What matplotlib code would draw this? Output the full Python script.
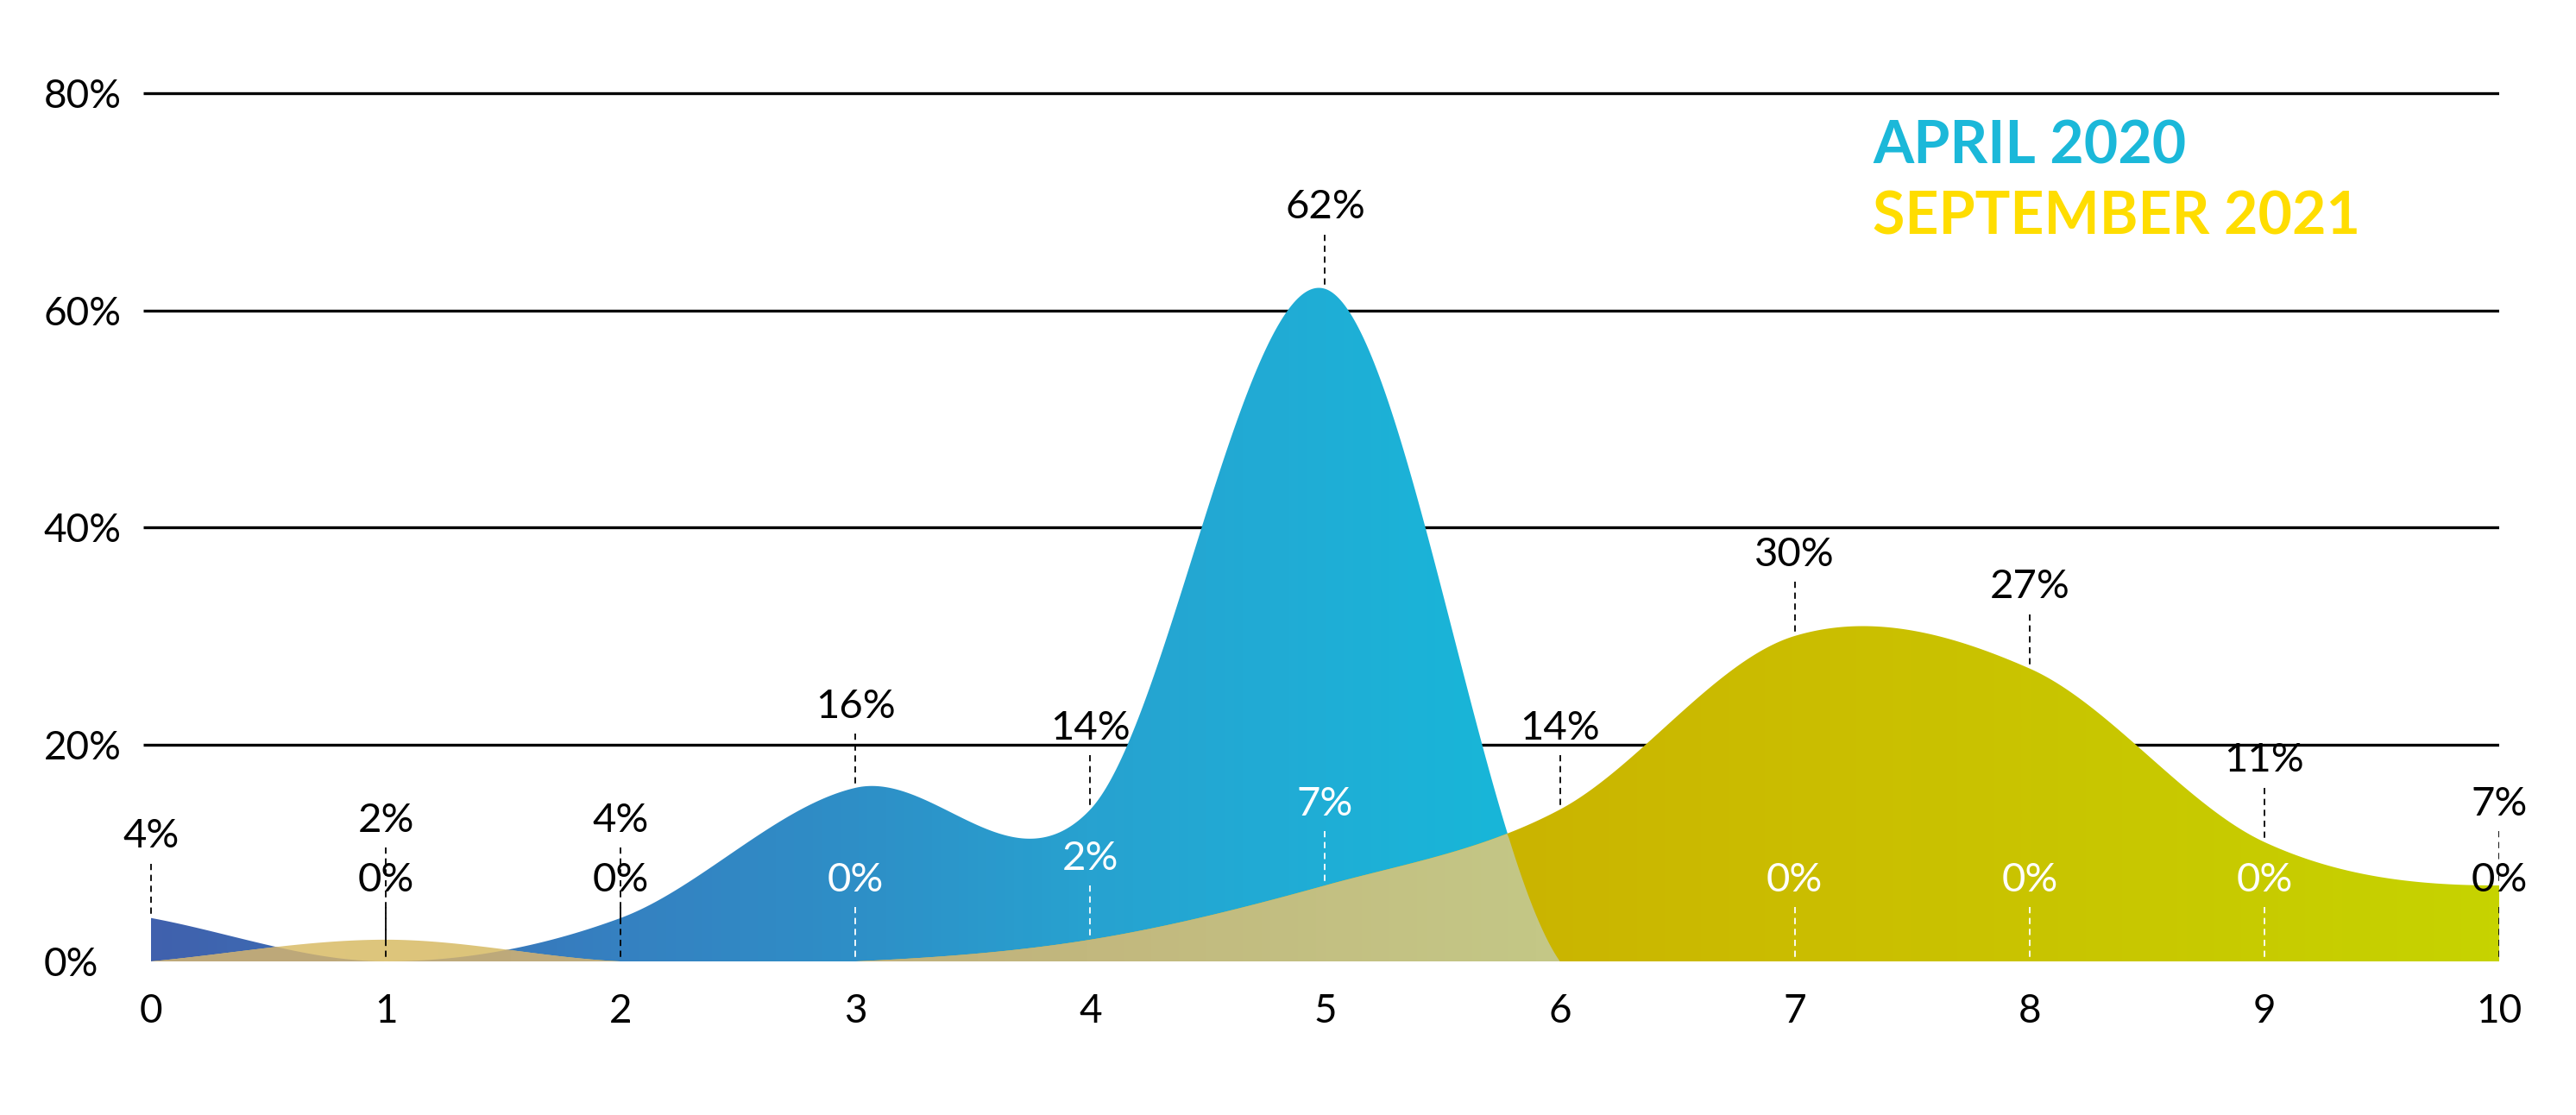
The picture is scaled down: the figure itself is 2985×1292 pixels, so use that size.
import numpy as np
import matplotlib
matplotlib.use('Agg')
import matplotlib.pyplot as plt
from matplotlib.colors import LinearSegmentedColormap
from matplotlib.patches import Polygon

plt.rcParams['font.family'] = ['Lato', 'DejaVu Sans']

# data (share of respondents per score)
scores = list(range(11))
april = [4, 0, 4, 16, 14, 62, 0, 0, 0, 0, 0]
september = [0, 2, 0, 0, 2, 7, 14, 30, 27, 11, 7]
april_labels = ['4%', '0%', '4%', '16%', '14%', '62%', '', '0%', '0%', '0%', '0%']
sept_labels = ['', '2%', '0%', '0%', '2%', '7%', '14%', '30%', '27%', '11%', '7%']
y_ticks = [0, 20, 40, 60, 80]
y_tick_labels = ['0%', '20%', '40%', '60%', '80%']
series_names = ['APRIL 2020', 'SEPTEMBER 2021']


def smooth(x, y, xs):
    # catmull-rom style curve through the points (like the hand drawn areas)
    x = np.asarray(x, float)
    y = np.asarray(y, float)
    h = np.diff(x)
    m = np.zeros_like(y)
    m[1:-1] = (y[2:] - y[:-2]) / (x[2:] - x[:-2])
    m[0] = (y[1] - y[0]) / h[0]
    m[-1] = 0
    idx = np.clip(np.searchsorted(x, xs) - 1, 0, len(x) - 2)
    t = (xs - x[idx]) / h[idx]
    h00 = 2 * t**3 - 3 * t**2 + 1
    h10 = t**3 - 2 * t**2 + t
    h01 = -2 * t**3 + 3 * t**2
    h11 = t**3 - t**2
    out = (h00 * y[idx] + h10 * h[idx] * m[idx] + h01 * y[idx + 1]
           + h11 * h[idx] * m[idx + 1])
    return np.clip(out, 0, None)


def gradient_area(ax, xs, top, stops, z):
    verts = np.column_stack([np.r_[xs, xs[::-1]], np.r_[top, np.zeros_like(top)]])
    patch = Polygon(verts, closed=True, facecolor='none', edgecolor='none')
    ax.add_patch(patch)
    cmap = LinearSegmentedColormap.from_list('g', [(p / 10, c) for p, c in stops])
    im = ax.imshow(np.linspace(0, 1, 512)[None, :], extent=[0, 10, 0, 80],
                   aspect='auto', cmap=cmap, origin='lower', zorder=z,
                   interpolation='bilinear')
    im.set_clip_path(patch)


fig = plt.figure(figsize=(29.85, 12.92), dpi=100)
ax = fig.add_axes([0.0556, 0.1329, 0.9146, 0.7929])

xs = np.linspace(0, 10, 1201)
a_s = smooth(scores, april, xs)
s_s = smooth(scores, september, xs)
both = np.minimum(a_s, s_s)

ax.hlines(y_ticks[1:], -0.033, 10, color='black', lw=2.4, zorder=0)

gradient_area(ax, xs, a_s, [(0, '#4061ad'), (2, '#3581c1'), (3, '#2e8fc7'),
                            (4, '#27a2d0'), (5, '#1faed6'), (6, '#16b9d9'),
                            (10, '#16b9d9')], 1)
gradient_area(ax, xs, s_s, [(0, '#e0c77f'), (1.6, '#dcc47a'), (5.8, '#cab400'),
                            (7, '#cbbd00'), (8, '#c9c400'), (10, '#c6d300')], 2)
gradient_area(ax, xs, both, [(0, '#bda879'), (1.5, '#beaa7b'), (3, '#c0b07c'),
                             (4, '#c2b87e'), (5.9, '#c4c786'), (10, '#c4c786')], 3)

# value labels with dashed leader lines
for i in scores:
    items = [(april[i], april_labels[i], september[i]),
             (september[i], sept_labels[i], april[i])]
    items.sort(key=lambda t: t[0])
    lo, hi = items
    lo_y = lo[0] + 7.5
    hi_y = hi[0] + 7.5
    if lo[1]:
        hi_y = max(hi_y, lo_y + 5.5)
    for (val, lab, other), ly in ((lo, lo_y), (hi, hi_y)):
        if not lab:
            continue
        col = 'white' if ly < other else 'black'
        ax.text(i, ly, lab, ha='center', va='center', fontsize=34, color=col,
                zorder=6, clip_on=False)
        ax.plot([i, i], [ly - 2.5, val], color=col, lw=1.3, ls=(0, (4, 3)),
                zorder=5)

ax.text(0.727, 0.8537, series_names[0], transform=fig.transFigure,
        fontsize=49, fontweight='bold', color='#1bb8d9', ha='left', va='baseline')
ax.text(0.727, 0.7902, series_names[1], transform=fig.transFigure,
        fontsize=49, fontweight='bold', color='#ffdd00', ha='left', va='baseline')

ax.set_xlim(-0.033, 10)
ax.set_ylim(-0.5, 81)
ax.set_xticks(scores)
ax.set_yticks(y_ticks)
ax.set_yticklabels(y_tick_labels, ha='left')
ax.tick_params(axis='x', length=0, labelsize=33, pad=22)
ax.tick_params(axis='y', length=0, labelsize=33, pad=83)
for sp in ax.spines.values():
    sp.set_visible(False)

fig.savefig('out.png', dpi=100, facecolor='white')
